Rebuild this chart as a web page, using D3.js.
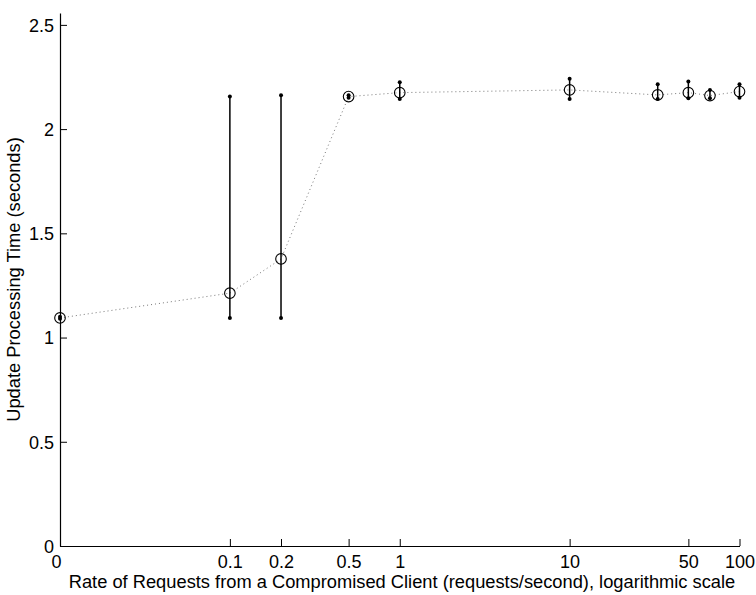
<!DOCTYPE html>
<html>
<head>
<meta charset="utf-8">
<script src="https://cdn.jsdelivr.net/npm/d3@7"></script>
<style>
body{margin:0;background:#fff;}
svg text{font-family:"Liberation Sans",Arial,Helvetica,sans-serif;fill:#000;}
</style>
</head>
<body>
<svg id="chart" width="756" height="595"></svg>
<script>
// Data (x = 0 plotted at the axis minimum, 0.01)
const rates = [0.01, 0.1, 0.2, 0.5, 1, 10, 33, 50, 67, 100];
const means = [1.094, 1.213, 1.377, 2.156, 2.175, 2.188, 2.164, 2.175, 2.161, 2.180];
const lows  = [1.090, 1.094, 1.094, 2.150, 2.145, 2.145, 2.145, 2.148, 2.148, 2.151];
const highs = [1.100, 2.156, 2.163, 2.162, 2.225, 2.241, 2.215, 2.228, 2.188, 2.215];
const xTickValues = [0.01, 0.1, 0.2, 0.5, 1, 10, 50, 100];
const xTickLabels = ["0", "0.1", "0.2", "0.5", "1", "10", "50", "100"];
const yTickValues = [0, 0.5, 1, 1.5, 2, 2.5];
const yTickLabels = ["0", "0.5", "1", "1.5", "2", "2.5"];

(function(){
const svg = d3.select("#chart");
const mLeft = 60, mRight = 739.5, mTop = 13, mBottom = 546;
const x = d3.scaleLog().domain([0.01, 100]).range([mLeft, mRight]);
const y = d3.scaleLinear().domain([0, 2.557]).range([mBottom, mTop]);

// Axes
const xAxis = d3.axisBottom(x).tickValues(xTickValues)
  .tickFormat((d,i)=>xTickLabels[i]).tickSizeInner(-7).tickSizeOuter(0).tickPadding(9);
const yAxis = d3.axisLeft(y).tickValues(yTickValues)
  .tickFormat((d,i)=>yTickLabels[i]).tickSizeInner(-7).tickSizeOuter(0).tickPadding(6);

const gx = svg.append("g").attr("transform", `translate(0,${mBottom})`).call(xAxis);
const gy = svg.append("g").attr("transform", `translate(${mLeft},0)`).call(yAxis);
[gx, gy].forEach(g => {
  g.select(".domain").attr("stroke", "#000").attr("stroke-width", 1.2);
  g.selectAll(".tick line").attr("stroke", "#000").attr("stroke-width", 1);
  g.selectAll(".tick text").attr("font-size", 18).attr("fill", "#000")
    .attr("font-family", '"Liberation Sans",Arial,sans-serif');
});
gy.selectAll(".tick text").attr("dy", "0.35em");
gx.selectAll(".tick text").filter((d,i)=>i===0).attr("dx", -4);

// Axis titles
svg.append("text").attr("x", 402).attr("y", 588)
  .attr("text-anchor", "middle").attr("font-size", 18.3)
  .text("Rate of Requests from a Compromised Client (requests/second), logarithmic scale");
svg.append("text").attr("transform", `translate(20,${(mTop + mBottom) / 2}) rotate(-90)`)
  .attr("text-anchor", "middle").attr("font-size", 18.3)
  .text("Update Processing Time (seconds)");

// Dotted line through means
const line = d3.line().x((d,i)=>x(rates[i])).y(d=>y(d));
svg.append("path").datum(means).attr("d", line)
  .attr("fill", "none").attr("stroke", "#777").attr("stroke-width", 1)
  .attr("stroke-dasharray", "1,3");

// Error bars
const eb = svg.append("g");
rates.forEach((r, i) => {
  eb.append("line").attr("x1", x(r)).attr("x2", x(r))
    .attr("y1", y(lows[i])).attr("y2", y(highs[i]))
    .attr("stroke", "#000").attr("stroke-width", 1.5);
  [lows[i], highs[i]].forEach(v => {
    eb.append("circle").attr("cx", x(r)).attr("cy", y(v)).attr("r", 2)
      .attr("fill", "#000");
  });
});

// Markers
svg.append("g").selectAll("circle.m").data(means).join("circle").attr("class", "m")
  .attr("cx", (d,i)=>x(rates[i])).attr("cy", d=>y(d)).attr("r", 5.3)
  .attr("fill", "none").attr("stroke", "#000").attr("stroke-width", 1.1);
})();
</script>
</body>
</html>
